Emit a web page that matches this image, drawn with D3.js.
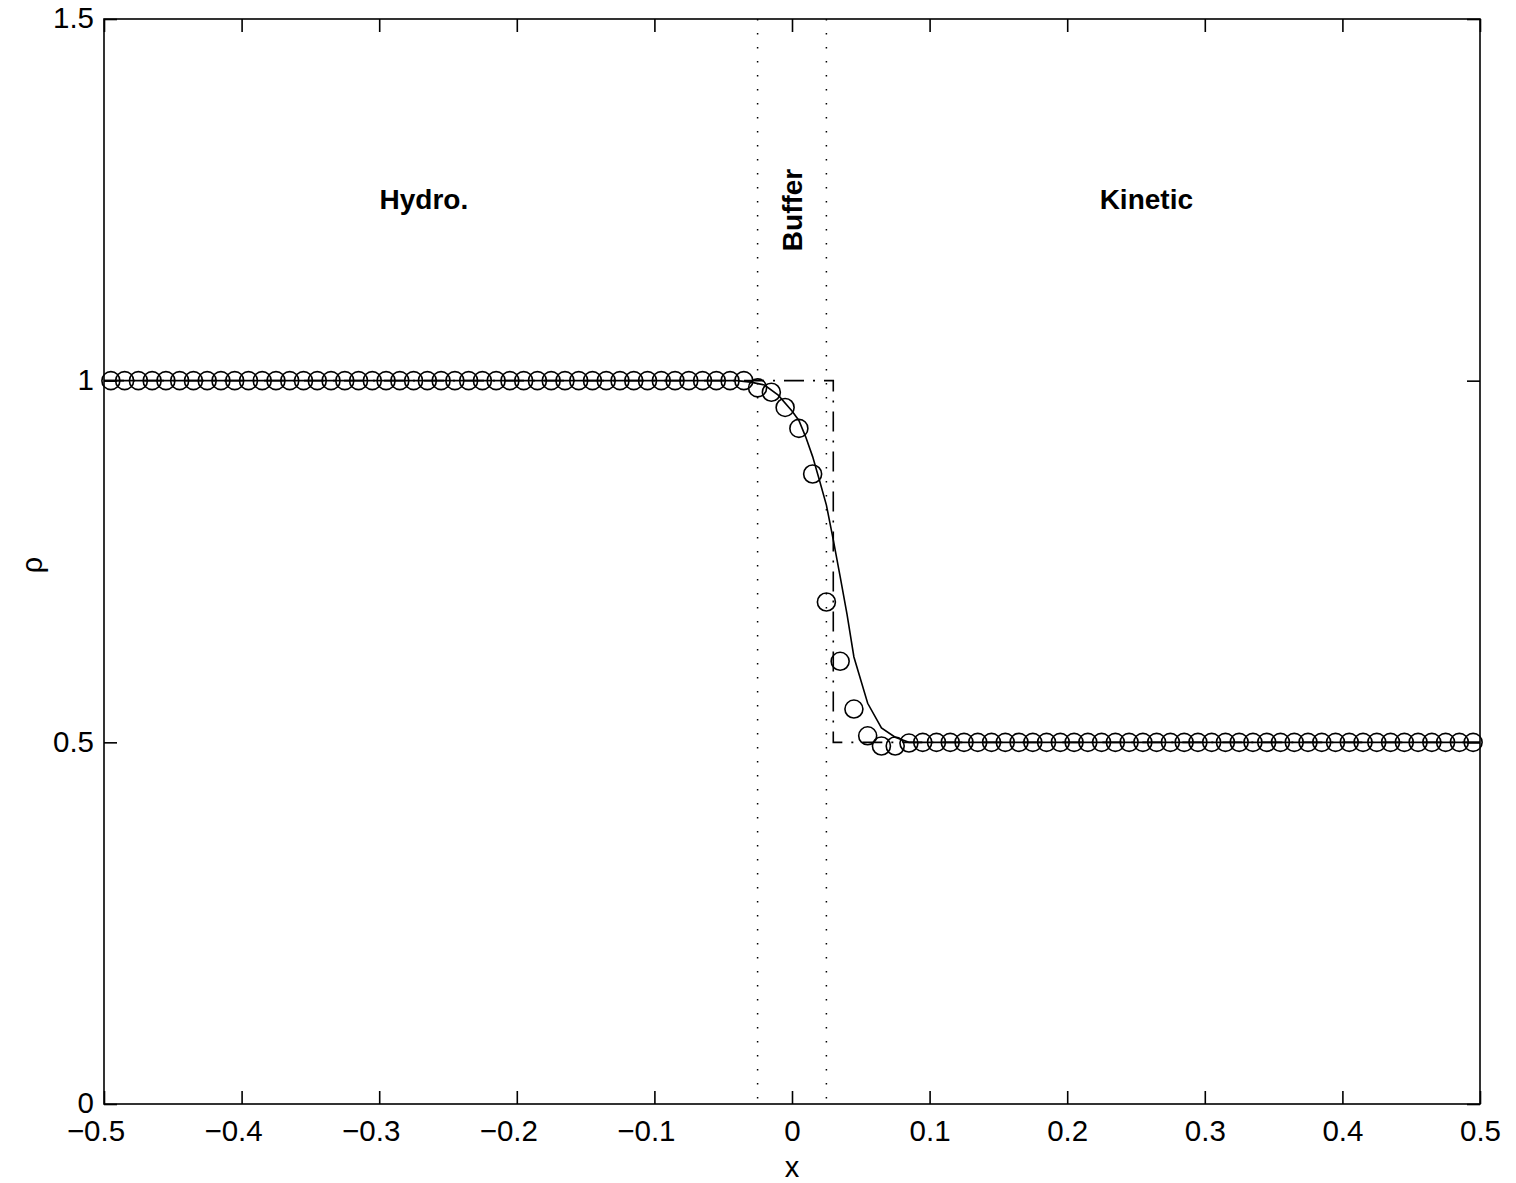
<!DOCTYPE html>
<html>
<head>
<meta charset="utf-8">
<script src="https://cdn.jsdelivr.net/npm/d3@7"></script>
<style>
  html, body { margin: 0; padding: 0; background: #fff; }
  svg { display: block; }
  text { font-family: "Liberation Sans", Arial, Helvetica, sans-serif; fill: #000; }
</style>
</head>
<body>
<script>
// Density profile across the hydrodynamic / buffer / kinetic coupling region.

// Cell-centred solution (circles): x positions and density values
const cellX = d3.range(100).map(i => -0.495 + 0.01 * i);
const cellRho = [
  // x = -0.495 .. -0.045
  1, 1, 1, 1, 1, 1, 1, 1, 1, 1,
  1, 1, 1, 1, 1, 1, 1, 1, 1, 1,
  1, 1, 1, 1, 1, 1, 1, 1, 1, 1,
  1, 1, 1, 1, 1, 1, 1, 1, 1, 1,
  1, 1, 1, 1, 1, 1,
  // x = -0.035 .. 0.085
  1.0, 0.99, 0.984, 0.963, 0.934, 0.871, 0.694, 0.612, 0.546, 0.509, 0.495, 0.495, 0.499,
  // x = 0.095 .. 0.495
  0.5, 0.5, 0.5, 0.5, 0.5, 0.5, 0.5, 0.5, 0.5, 0.5,
  0.5, 0.5, 0.5, 0.5, 0.5, 0.5, 0.5, 0.5, 0.5, 0.5,
  0.5, 0.5, 0.5, 0.5, 0.5, 0.5, 0.5, 0.5, 0.5, 0.5,
  0.5, 0.5, 0.5, 0.5, 0.5, 0.5, 0.5, 0.5, 0.5, 0.5,
  0.5
];

// Reference solution (solid line)
const refX   = [-0.5, -0.04, -0.03, -0.02, -0.01, 0, 0.005, 0.01, 0.015, 0.02, 0.025, 0.03, 0.035, 0.04, 0.045, 0.055, 0.065, 0.075, 0.085, 0.5];
const refRho = [1, 1, 0.998, 0.994, 0.98, 0.958, 0.945, 0.922, 0.895, 0.862, 0.828, 0.78, 0.729, 0.677, 0.618, 0.554, 0.52, 0.507, 0.5, 0.5];

// Initial step (dash-dot line)
const stepX   = [-0.5, 0.03, 0.03, 0.5];
const stepRho = [1, 1, 0.5, 0.5];

// Buffer zone limits (dotted lines)
const bufferEdges = [-0.025, 0.025];

// Region labels
const regionLabels = [
  { text: "Hydro.",  x: -0.2675, y: 1.25,  rotate: false },
  { text: "Buffer",  x: 0.0,     y: 1.236, rotate: true },
  { text: "Kinetic", x: 0.2575,  y: 1.25,  rotate: false }
];

// Axis ticks
const xTicks = [-0.5, -0.4, -0.3, -0.2, -0.1, 0, 0.1, 0.2, 0.3, 0.4, 0.5];
const yTicks = [0, 0.5, 1, 1.5];

const W = 1516, H = 1183;
const margin = { left: 104, right: 36, top: 19, bottom: 79 };

const svg = d3.select("body").append("svg").attr("width", W).attr("height", H);

const x = d3.scaleLinear().domain([-0.5, 0.5]).range([margin.left, W - margin.right]);
const y = d3.scaleLinear().domain([0, 1.5]).range([H - margin.bottom, margin.top]);

const fmt = v => (v < 0 ? "\u2212" : "") + String(Math.abs(v));

const plot = svg.append("g");

// Buffer boundaries
plot.selectAll("line.buffer")
  .data(bufferEdges)
  .join("line")
  .attr("class", "buffer")
  .attr("x1", d => x(d)).attr("x2", d => x(d))
  .attr("y1", y(1.5)).attr("y2", y(0))
  .attr("stroke", "#000")
  .attr("stroke-width", 1.5)
  .attr("stroke-dasharray", "1.5,12.5");

// Circles
plot.selectAll("circle.cell")
  .data(cellX.map((v, i) => [v, cellRho[i]]))
  .join("circle")
  .attr("class", "cell")
  .attr("cx", d => x(d[0]))
  .attr("cy", d => y(d[1]))
  .attr("r", 9)
  .attr("fill", "none")
  .attr("stroke", "#000")
  .attr("stroke-width", 1.6);

// Reference line
const line = d3.line().x(d => x(d[0])).y(d => y(d[1]));
plot.append("path")
  .datum(refX.map((v, i) => [v, refRho[i]]))
  .attr("d", line)
  .attr("fill", "none")
  .attr("stroke", "#000")
  .attr("stroke-width", 1.6);

// Initial step
plot.append("path")
  .datum(stepX.map((v, i) => [v, stepRho[i]]))
  .attr("d", line)
  .attr("fill", "none")
  .attr("stroke", "#000")
  .attr("stroke-width", 1.6)
  .attr("stroke-dasharray", "20,9,2,9");

// Region labels
regionLabels.forEach(l => {
  const t = plot.append("text")
    .text(l.text)
    .attr("font-size", 28)
    .attr("font-weight", "bold")
    .attr("text-anchor", "middle")
    .attr("dominant-baseline", "central");
  if (l.rotate) {
    t.attr("transform", `translate(${x(l.x)},${y(l.y)}) rotate(-90)`);
  } else {
    t.attr("x", x(l.x)).attr("y", y(l.y));
  }
});

// Axes box
const axes = svg.append("g");
axes.append("rect")
  .attr("x", x(-0.5)).attr("y", y(1.5))
  .attr("width", x(0.5) - x(-0.5)).attr("height", y(0) - y(1.5))
  .attr("fill", "none").attr("stroke", "#000").attr("stroke-width", 1.6);

const tickLen = 13;
// Inward ticks, bottom and top
const xAxisG = axes.append("g").attr("transform", `translate(0,${y(0)})`)
  .call(d3.axisBottom(x).tickValues(xTicks).tickSize(-tickLen).tickPadding(16.5).tickFormat(fmt))
  .call(g => g.select(".domain").remove());
// the minus sign hangs to the left of the centred number
xAxisG.selectAll(".tick text").attr("dx", d => d < 0 ? -8.5 : 0);

axes.append("g").attr("transform", `translate(0,${y(1.5)})`)
  .call(d3.axisTop(x).tickValues(xTicks).tickSize(-tickLen).tickFormat(""))
  .call(g => g.select(".domain").remove());
// Inward ticks, left and right
axes.append("g").attr("transform", `translate(${x(-0.5)},0)`)
  .call(d3.axisLeft(y).tickValues(yTicks).tickSize(-tickLen).tickPadding(10).tickFormat(d => String(d)))
  .call(g => g.select(".domain").remove())
  .call(g => g.selectAll(".tick text").attr("dy", "0.3em"));
axes.append("g").attr("transform", `translate(${x(0.5)},0)`)
  .call(d3.axisRight(y).tickValues(yTicks).tickSize(-tickLen).tickFormat(""))
  .call(g => g.select(".domain").remove());

axes.selectAll(".tick line").attr("stroke", "#000").attr("stroke-width", 1.6);
axes.selectAll(".tick text")
  .attr("font-size", 29.5)
  .attr("font-family", "'Liberation Sans', Arial, sans-serif")
  .attr("fill", "#000");

// Axis labels
svg.append("text")
  .text("x")
  .attr("x", x(0)).attr("y", 1177)
  .attr("text-anchor", "middle")
  .attr("font-size", 29);

svg.append("text")
  .text("\u03c1")
  .attr("transform", `translate(42,${y(0.745)}) rotate(-90)`)
  .attr("text-anchor", "middle")
  .attr("font-size", 29);
</script>
</body>
</html>
